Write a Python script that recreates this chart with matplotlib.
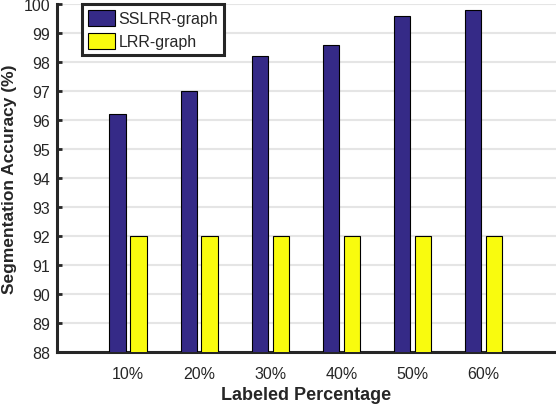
import matplotlib
matplotlib.use("Agg")
import matplotlib.pyplot as plt
import numpy as np

# data
labels = ['10%', '20%', '30%', '40%', '50%', '60%']
sslrr = [96.2, 97.0, 98.2, 98.6, 99.6, 99.8]
lrr = [92.0, 92.0, 92.0, 92.0, 92.0, 92.0]

plt.rcParams['font.family'] = ['Liberation Sans', 'DejaVu Sans']
dark = '#262626'

W, H = 556, 406
fig = plt.figure(figsize=(W/100, H/100), dpi=100)
# axes box in pixels: left 57, right 556, top 5, bottom 353
ax = fig.add_axes([57/W, (H-353)/H, 499/W, 348/H])

x = np.arange(1, len(labels)+1)
off = 0.147
w = 0.23
ax.bar(x - off, sslrr, w, bottom=0, color='#352a87', edgecolor='black', linewidth=0.8, zorder=3, label='SSLRR-graph')
ax.bar(x + off, lrr, w, bottom=0, color='#f9fb0e', edgecolor='black', linewidth=0.8, zorder=3, label='LRR-graph')

ax.set_ylim(88, 100)
ax.set_xlim(0, 7.02)
ax.set_yticks(np.arange(88, 101, 1))
ax.set_xticks(x)
ax.set_xticklabels(labels)

ax.yaxis.grid(True, color='#e5e5e5', linewidth=1.5, zorder=0)
ax.set_axisbelow(True)

for s in ['top', 'right']:
    ax.spines[s].set_visible(False)
for s in ['left', 'bottom']:
    ax.spines[s].set_linewidth(2.2)
    ax.spines[s].set_color(dark)
    ax.spines[s].set_zorder(2.5)

ax.tick_params(axis='y', direction='in', length=3.6, width=2, color=dark, labelsize=11.5, labelcolor=dark, pad=5)
ax.tick_params(axis='x', length=0, labelsize=11.5, labelcolor=dark, pad=10)

ax.set_xlabel('Labeled Percentage', fontsize=13, fontweight='bold', color=dark, labelpad=4)
ax.set_ylabel('Segmentation Accuracy (%)', fontsize=12.5, fontweight='bold', color=dark, labelpad=4.5)

leg = ax.legend(loc='upper left', bbox_to_anchor=(82/W, 1-5/H), bbox_transform=fig.transFigure,
                fontsize=11.5, fancybox=False, framealpha=1, edgecolor=dark,
                borderpad=0.35, handlelength=1.7, handleheight=1.2, handletextpad=0.25,
                labelspacing=0.4, borderaxespad=0)
leg.get_frame().set_linewidth(2.2)
for t in leg.get_texts():
    t.set_color(dark)
for p in leg.get_patches():
    p.set_linewidth(0.8)

fig.savefig('out.png', dpi=100)
